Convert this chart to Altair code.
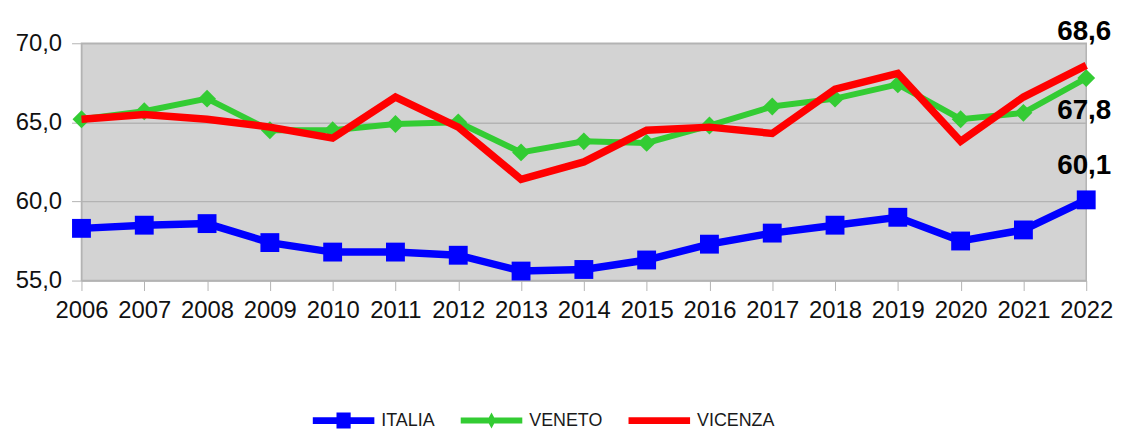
import altair as alt
import pandas as pd

years = list(range(2006, 2023))
series = ["ITALIA", "VENETO", "VICENZA"]
colors = ["#0000ff", "#33cc33", "#ff0000"]
italia = [58.3, 58.5, 58.6, 57.4, 56.8, 56.8, 56.6, 55.6, 55.7, 56.3, 57.3, 58.0, 58.5, 59.0, 57.5, 58.2, 60.1]
veneto = [65.2, 65.7, 66.5, 64.5, 64.5, 64.9, 65.0, 63.1, 63.8, 63.7, 64.8, 66.0, 66.5, 67.4, 65.2, 65.6, 67.8]
vicenza = [65.2, 65.5, 65.2, 64.7, 64.0, 66.6, 64.7, 61.4, 62.5, 64.5, 64.7, 64.3, 67.1, 68.1, 63.8, 66.6, 68.6]
y_ticks = [55, 60, 65, 70]

values = {"ITALIA": italia, "VENETO": veneto, "VICENZA": vicenza}
rows = []
for s in series:
    for yr, v in zip(years, values[s]):
        rows.append({"year": yr, "series": s, "value": v})
df = pd.DataFrame(rows)

FONT = "Liberation Sans"

x = alt.X(
    "year:O",
    scale=alt.Scale(type="point", padding=0),
    axis=alt.Axis(
        title=None, labelAngle=0, labelFont=FONT, labelFontSize=24, labelColor="#111111",
        tickSize=10, tickColor="#b3b3b3", domainColor="#b3b3b3", labelPadding=8, grid=False,
    ),
)
y = alt.Y(
    "value:Q",
    scale=alt.Scale(domain=[55, 70], nice=False, zero=False),
    axis=alt.Axis(
        title=None, values=y_ticks, labelFont=FONT, labelFontSize=24, labelColor="#111111",
        labelExpr="replace(format(datum.value, '.1f'), '.', ',')",
        tickSize=10, tickColor="#b3b3b3", domainColor="#b3b3b3", labelPadding=10,
        grid=True, gridColor="#b3b3b3", gridWidth=1.5,
    ),
)

base = alt.Chart(df)
layers = []
widths = {"ITALIA": 7.5, "VENETO": 6, "VICENZA": 7.5}
for s, c in zip(series, colors):
    sub = base.transform_filter(alt.datum.series == s)
    layers.append(sub.mark_line(color=c, strokeWidth=widths[s]).encode(x=x, y=y))
    if s == "ITALIA":
        layers.append(sub.mark_point(shape="square", filled=True, color=c, size=361, opacity=1).encode(x=x, y=y))
    if s == "VENETO":
        layers.append(sub.mark_point(shape="diamond", filled=True, color=c, size=324, opacity=1).encode(x=x, y=y))

# value labels at the last year
offsets = {"ITALIA": -34, "VENETO": 33, "VICENZA": -34}
for s in series:
    lab = base.transform_filter(
        (alt.datum.series == s) & (alt.datum.year == years[-1])
    ).transform_calculate(
        txt="replace(format(datum.value, '.1f'), '.', ',')"
    ).mark_text(
        font=FONT, fontSize=28, fontWeight="bold", color="#000000", dy=offsets[s], dx=-2
    ).encode(x=x, y=y, text="txt:N")
    layers.append(lab)

# legend layer
paths = [
    "M-1,-0.11L1,-0.11L1,0.11L-1,0.11Z M-0.23,-0.26L0.23,-0.26L0.23,0.26L-0.23,0.26Z",
    "M-1,-0.1L1,-0.1L1,0.1L-1,0.1Z M0,-0.26L0.14,0L0,0.26L-0.14,0Z",
    "M-1,-0.11L1,-0.11L1,0.11L-1,0.11Z",
]
leg = alt.Legend(
    title=None, orient="none", direction="horizontal", legendX=233, legendY=349,
    symbolSize=3844, symbolStrokeWidth=0, symbolOpacity=1, labelFont=FONT, labelFontSize=18,
    labelColor="#1a1a1a", labelOffset=7, columnPadding=26, padding=0,
)
legend_layer = base.mark_point(filled=True, opacity=0, strokeWidth=0).encode(
    x=x, y=y,
    fill=alt.Fill("series:N", scale=alt.Scale(domain=series, range=colors), legend=leg),
    shape=alt.Shape("series:N", scale=alt.Scale(domain=series, range=paths), legend=leg),
)
layers.append(legend_layer)

chart = alt.layer(*layers).properties(
    width=1012, height=239,
    autosize=alt.AutoSizeParams(type="none"),
    padding={"left": 74, "top": 34, "right": 31, "bottom": 149},
).configure_view(fill="#d3d3d3", stroke="#b3b3b3", strokeWidth=1.5)

chart.save("out.html", embed_options={"renderer": "svg", "actions": False})
